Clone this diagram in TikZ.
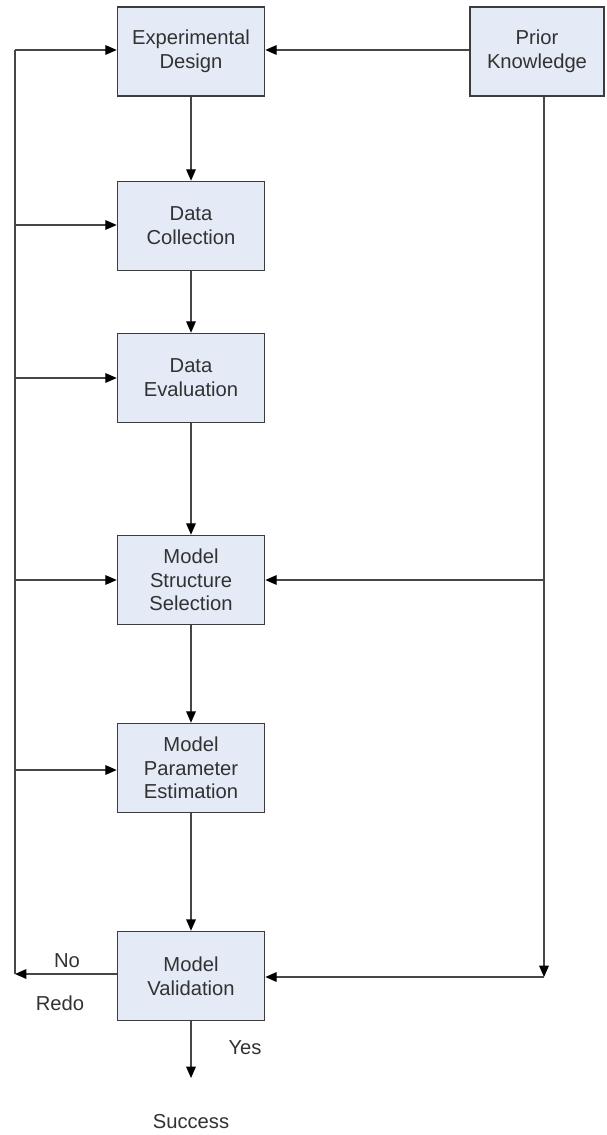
\documentclass[tikz,border=0pt]{standalone}
\usepackage{fontspec}
\setmainfont{Liberation Sans}
\usepackage{tikz}
\usetikzlibrary{arrows.meta}
\definecolor{boxfill}{RGB}{228,234,246}
\definecolor{boxline}{RGB}{60,60,60}
\definecolor{wire}{RGB}{70,70,70}
\definecolor{inktext}{RGB}{50,50,50}
\tikzset{
  stagebox/.style={draw=boxline, line width=0.9pt, fill=boxfill, minimum width=2.94cm, minimum height=1.78cm, align=center, text=inktext, font=\fontsize{11.5}{13.5}\selectfont},
  flow/.style={draw=wire, line width=0.8pt, -{Triangle[length=6.5pt,width=5.5pt,color=black]}},
  wireline/.style={draw=wire, line width=0.8pt},
  tag/.style={text=inktext, font=\fontsize{11.5}{13.5}\selectfont}
}
\newcommand{\stage}[4]{\node[stagebox] (#1) at (#2,#3) {#4};}
\begin{document}
\begin{tikzpicture}
        \useasboundingbox (0,0) rectangle (12.12,-22.7);
        \stage{design}{3.82}{-1.03}{Experimental\\Design}
        \stage{collect}{3.82}{-4.52}{Data\\Collection}
        \stage{evaluate}{3.82}{-7.56}{Data\\Evaluation}
        \stage{structure}{3.82}{-11.6}{Model\\Structure\\Selection}
        \stage{estimate}{3.82}{-15.36}{Model\\Parameter\\Estimation}
        \stage{validate}{3.82}{-19.52}{Model\\Validation}
        \node[stagebox, minimum width=2.68cm] (prior) at (10.74,-1.03) {Prior\\Knowledge};

        % main chain
        \draw[flow] (design) -- (collect);
        \draw[flow] (collect) -- (evaluate);
        \draw[flow] (evaluate) -- (structure);
        \draw[flow] (structure) -- (estimate);
        \draw[flow] (estimate) -- (validate);

        % redo loop on the left
        \coordinate (redo) at (0.3,-19.48);
        \draw[flow] (validate.west |- redo) -- (redo);
        \draw[wireline] (redo) -- (0.3,-1.0);
        \draw[flow] (0.3,-1.0) -- (design.west |- 0,-1.0);
        \draw[flow] (0.3,-4.5) -- (collect.west |- 0,-4.5);
        \draw[flow] (0.3,-7.56) -- (evaluate.west);
        \draw[flow] (0.3,-11.6) -- (structure.west);
        \draw[flow] (0.3,-15.4) -- (estimate.west |- 0,-15.4);

        % prior knowledge
        \coordinate (down) at (10.88,-19.54);
        \draw[flow] (prior.west |- 0,-1.0) -- (design.east |- 0,-1.0);
        \draw[flow] (prior.south -| down) -- (down);
        \draw[flow] (down) -- (validate.east |- down);
        \draw[flow] (10.88,-11.6) -- (structure.east);

        % outcome
        \coordinate (done) at (3.82,-21.56);
        \draw[flow] (validate) -- (done);
        \node[tag] (no) at (1.34,-19.22) {No};
        \node[tag] (again) at (1.2,-20.06) {Redo};
        \node[tag] (yes) at (4.9,-20.96) {Yes};
        \node[tag] (success) at (3.82,-22.44) {Success};
\end{tikzpicture}
\end{document}
